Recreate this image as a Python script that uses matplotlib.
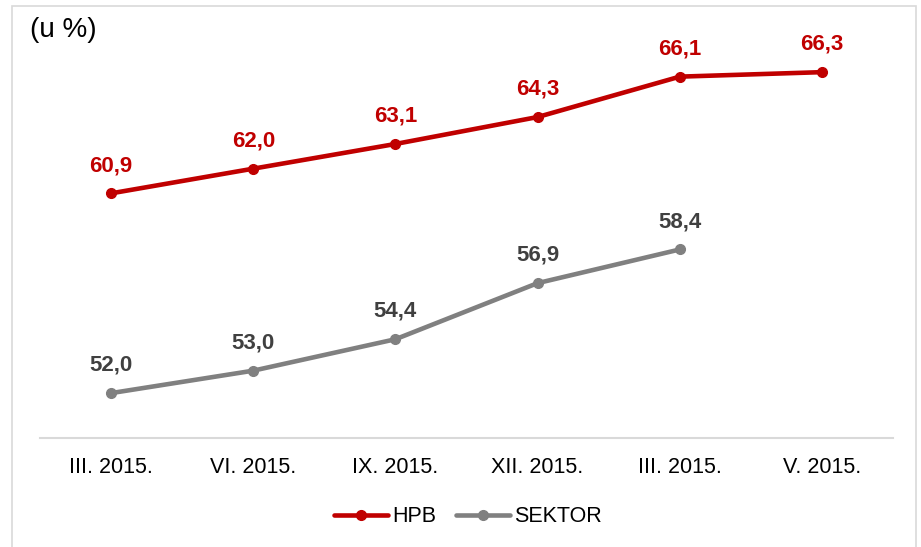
import matplotlib
matplotlib.use("Agg")
import matplotlib.pyplot as plt
from matplotlib.patches import Rectangle

plt.rcParams['font.family'] = ['Liberation Sans', 'DejaVu Sans']

categories = ["III. 2015.", "VI. 2015.", "IX. 2015.", "XII. 2015.", "III. 2015.", "V. 2015."]
hpb = [60.9, 62.0, 63.1, 64.3, 66.1, 66.3]
sektor = [52.0, 53.0, 54.4, 56.9, 58.4]
series_names = ["HPB", "SEKTOR"]

RED = "#C00000"
GRAY = "#808080"
LABEL_GRAY = "#404040"

W, H = 921, 547
fig = plt.figure(figsize=(W / 100, H / 100), dpi=100)
ax = fig.add_axes([40 / W, 1 - 438 / H, (893 - 40) / W, (438 - 34) / H])

x_h = list(range(len(hpb)))
x_s = list(range(len(sektor)))
ax.plot(x_h, hpb, color=RED, lw=3.3, marker='o', ms=7, label=series_names[0],
        solid_capstyle='round')
ax.plot(x_s, sektor, color=GRAY, lw=3.3, marker='o', ms=7, label=series_names[1],
        solid_capstyle='round')

def fmt(v):
    return f"{v:.1f}".replace(".", ",")

for xi, v in zip(x_h, hpb):
    ax.annotate(fmt(v), (xi, v), xytext=(0, 20), textcoords='offset points',
                ha='center', va='center', fontsize=16, fontweight='bold', color=RED)
for xi, v in zip(x_s, sektor):
    ax.annotate(fmt(v), (xi, v), xytext=(0, 20), textcoords='offset points',
                ha='center', va='center', fontsize=16, fontweight='bold', color=LABEL_GRAY)

ax.set_xlim(-0.5, len(categories) - 0.5)
ax.set_ylim(50, 68)
ax.set_xticks(range(len(categories)))
ax.set_xticklabels(categories, fontsize=15.5, color="#000000")
ax.tick_params(axis='x', length=0, pad=14)
ax.set_yticks([])
for s in ['top', 'right', 'left']:
    ax.spines[s].set_visible(False)
ax.spines['bottom'].set_color("#d9d9d9")
ax.spines['bottom'].set_linewidth(1.5)

leg = fig.legend(loc='center', bbox_to_anchor=(468 / W, 1 - 517 / H), ncol=2,
                 frameon=False, fontsize=15.5, handlelength=2.5, handletextpad=0.2,
                 columnspacing=0.9, markerscale=1.0)

fig.text(30 / W, 1 - 30 / H, "(u %)", fontsize=20, ha='left', va='center', color="#000000")

fig.patches.append(Rectangle((12 / W, -0.05), (916 - 12) / W, 1.05 - 6 / H,
                             transform=fig.transFigure, fill=False,
                             edgecolor="#d9d9d9", lw=1.2))

fig.savefig("out.png", dpi=100)
